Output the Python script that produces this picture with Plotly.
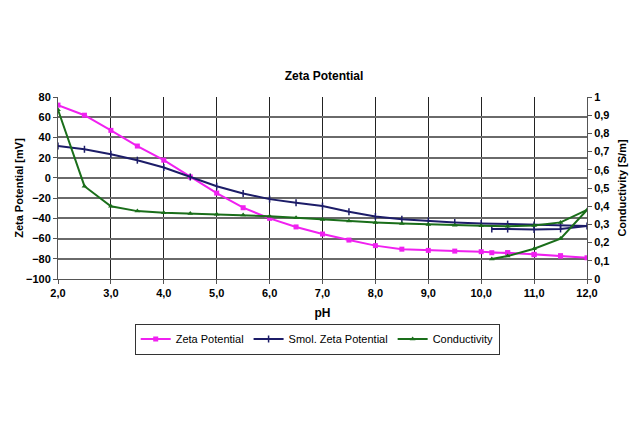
import plotly.graph_objects as go

ph = [2.0, 2.5, 3.0, 3.5, 4.0, 4.5, 5.0, 5.5, 6.0, 6.5, 7.0, 7.5, 8.0, 8.5, 9.0,
      9.5, 10.0, 10.5, 11.0, 11.5, 12.0, 11.5, 11.0, 10.5, 10.2]
zeta = [72, 62, 47, 31.5, 17.5, 1, -15, -29.5, -40, -48.5, -55.5, -61.5, -67, -70.5,
        -71.7, -72.4, -73, -74, -75.6, -77.3, -79, -77, -76, -74, -74]
smol = [31.5, 28.3, 23.4, 17.5, 10.3, 1, -8.2, -15.4, -21, -24.6, -27.9, -33.5, -38.1,
        -41, -42.7, -44, -45, -45.7, -46.6, -47.3, -47.5, -50.5, -51, -50.6, -50.6]
cond = [0.93, 0.51, 0.40, 0.373, 0.364, 0.36, 0.356, 0.351, 0.345, 0.336, 0.327, 0.318,
        0.311, 0.305, 0.300, 0.296, 0.292, 0.29, 0.294, 0.311, 0.379, 0.222, 0.166,
        0.126, 0.11]

x_ticks = [2, 3, 4, 5, 6, 7, 8, 9, 10, 11, 12]

PINK = "#F020F0"
NAVY = "#1C1C68"
GREEN = "#1A6E1A"
FONT = "Liberation Sans"

fig = go.Figure()
fig.add_trace(go.Scatter(x=ph, y=zeta, name="Zeta Potential", mode="lines+markers",
                         line=dict(color=PINK, width=2),
                         marker=dict(symbol="square", size=5, color=PINK)))
fig.add_trace(go.Scatter(x=ph, y=smol, name="Smol. Zeta Potential", mode="lines+markers",
                         line=dict(color=NAVY, width=2),
                         marker=dict(symbol="line-ns", size=5, color=NAVY,
                                     line=dict(color=NAVY, width=1.5))))
fig.add_trace(go.Scatter(x=ph, y=cond, name="Conductivity", mode="lines+markers",
                         yaxis="y2",
                         line=dict(color=GREEN, width=2),
                         marker=dict(symbol="triangle-up", size=5, color=GREEN)))

tickfont = dict(family=FONT, size=11, color="black", weight="bold")
titlefont = dict(family=FONT, size=11, color="black", weight="bold")

W, H = 632, 418
fig.update_layout(
    width=W, height=H,
    margin=dict(l=50, r=53, t=89, b=147),
    paper_bgcolor="white", plot_bgcolor="white",
    separators=",.",
    title=dict(text="Zeta Potential", x=0.5, xanchor="center", y=1 - 68 / H,
               yref="container", yanchor="middle",
               font=dict(family=FONT, size=12, color="black", weight="bold")),
    xaxis=dict(range=[2, 12], tickvals=x_ticks, tickformat=".1f", automargin=False,
               showgrid=True, gridcolor="#222222", gridwidth=1,
               showline=True, linecolor="#555555", linewidth=1, mirror=False,
               ticks="outside", ticklen=4, tickcolor="#555555",
               tickfont=tickfont, zeroline=False,
               title=dict(text="pH", font=dict(family=FONT, size=12, color="black",
                                               weight="bold"), standoff=10)),
    yaxis=dict(range=[-100, 80], dtick=20, showgrid=True, gridcolor="#6a6a6a",
               gridwidth=1.5, showline=True, linecolor="#555555", linewidth=1,
               ticks="outside", ticklen=4, tickcolor="#555555", automargin=False,
               tickfont=tickfont, zeroline=False,
               title=dict(text="Zeta Potential [mV]", font=titlefont, standoff=0)),
    yaxis2=dict(range=[0, 1], dtick=0.1, overlaying="y", side="right",
                showgrid=False, showline=True, linecolor="#555555", linewidth=1,
                ticks="outside", ticklen=4, tickcolor="#555555", automargin=False,
                tickfont=tickfont, zeroline=False,
                title=dict(text="Conductivity [S/m]", font=titlefont, standoff=8)),
    showlegend=True,
    legend=dict(orientation="h", x=0.49, y=-0.33, xanchor="center", yanchor="middle",
                bordercolor="#333333", borderwidth=1, bgcolor="white",
                font=dict(family=FONT, size=11, color="black"),
                itemwidth=30, tracegroupgap=0),
)

fig.write_html("out.html")
